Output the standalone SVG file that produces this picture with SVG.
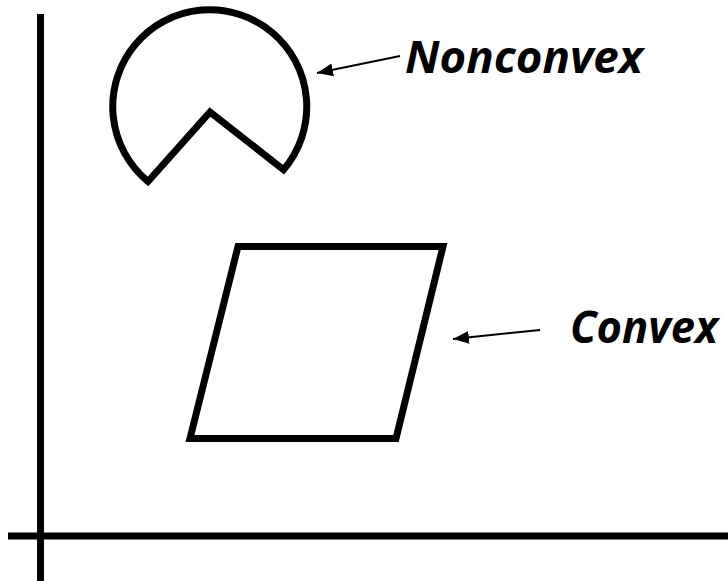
<svg xmlns="http://www.w3.org/2000/svg" width="728" height="581" viewBox="0 0 728 581">
  <style>
    .shape { fill: none; stroke: #000; stroke-width: 7; stroke-linejoin: miter; stroke-miterlimit: 10; }
    .axis { stroke: #000; stroke-width: 7; fill: none; }
    .conn { stroke: #000; stroke-width: 2; fill: none; }
    .label { font-family: "Open Sans", "Liberation Sans", Arial, sans-serif; font-weight: bold; font-style: italic; font-size: 44px; fill: #000; }
  </style>
  <defs>
    <marker id="arrow" markerUnits="userSpaceOnUse" markerWidth="17" markerHeight="14" viewBox="0 0 17 14" refX="16" refY="7" orient="auto">
      <path d="M0,0.5 L16,7 L0,13.5 z" fill="#000"/>
    </marker>
  </defs>
  <rect width="728" height="581" fill="#fff"/>
  <g id="axes">
    <line class="axis" x1="40.5" y1="14" x2="40.5" y2="581"/>
    <line class="axis" x1="8" y1="536" x2="728" y2="536"/>
  </g>
  <g id="nonconvex-shape">
    <path class="shape" d="M283.5,169.7 A97,97 0 1 0 148,181.5 L210,112 Z"/>
  </g>
  <g id="convex-shape">
    <path class="shape" d="M238,246.5 L443,246.5 L396,438.5 L190,438.5 Z"/>
  </g>
  <g id="connectors">
    <line class="conn" x1="400" y1="56" x2="317" y2="73" marker-end="url(#arrow)"/>
    <line class="conn" x1="540" y1="330" x2="453" y2="339" marker-end="url(#arrow)"/>
  </g>
  <g id="label-nonconvex">
    <text class="label" x="405" y="73" textLength="238" lengthAdjust="spacingAndGlyphs">Nonconvex</text>
  </g>
  <g id="label-convex">
    <text class="label" x="570" y="343" textLength="148" lengthAdjust="spacingAndGlyphs">Convex</text>
  </g>
</svg>
